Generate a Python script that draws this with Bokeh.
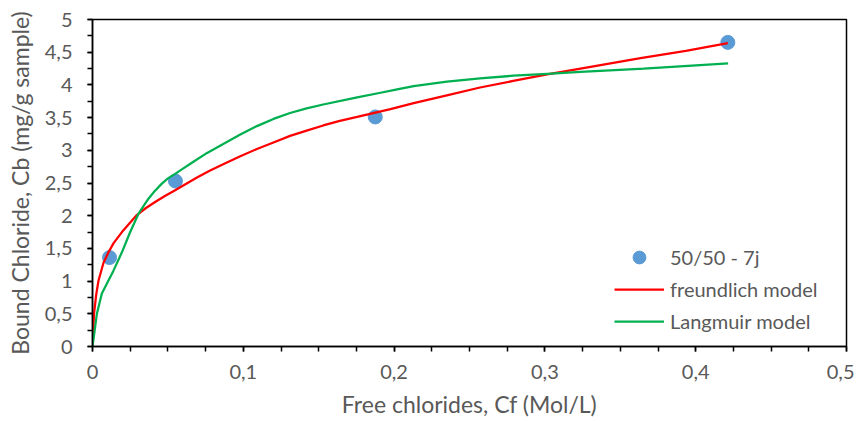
from bokeh.plotting import figure
from bokeh.models import Range1d, SingleIntervalTicker, CustomJSTickFormatter, Legend, LegendItem
from bokeh.embed import file_html
from bokeh.resources import INLINE

# Measured points (50/50 - 7j)
cf_points = [0.0113, 0.055, 0.1875, 0.4213]
cb_points = [1.36, 2.53, 3.51, 4.65]

# Freundlich model curve
freundlich_cf = [0, 0.001, 0.0025, 0.004, 0.0073, 0.0106, 0.014, 0.0195, 0.024, 0.0294,
                 0.035, 0.0415, 0.048, 0.0548, 0.069, 0.078, 0.087, 0.098, 0.109, 0.12,
                 0.131, 0.142, 0.153, 0.164, 0.1755, 0.1976, 0.213, 0.235, 0.257,
                 0.279, 0.3015, 0.3236, 0.3634, 0.3935, 0.4213]
freundlich_cb = [0, 0.5, 0.8, 1.01, 1.28, 1.44, 1.58, 1.75, 1.87, 2.01,
                 2.11, 2.21, 2.30, 2.39, 2.58, 2.69, 2.79, 2.91, 3.02, 3.12,
                 3.22, 3.30, 3.38, 3.45, 3.51, 3.63, 3.72, 3.84, 3.96,
                 4.06, 4.16, 4.25, 4.41, 4.52, 4.64]

# Langmuir model curve
langmuir_cf = [0, 0.0029, 0.0062, 0.0095, 0.0139, 0.0195, 0.025, 0.0305, 0.0371, 0.041,
               0.046, 0.05, 0.0548, 0.06, 0.0659, 0.076, 0.087, 0.098, 0.109, 0.12,
               0.131, 0.142, 0.153, 0.1755, 0.191, 0.202, 0.213, 0.235,
               0.257, 0.279, 0.3015, 0.3236, 0.3656, 0.4215]
langmuir_cb = [0, 0.50, 0.81, 0.96, 1.16, 1.44, 1.75, 2.03, 2.26, 2.37,
               2.49, 2.57, 2.64, 2.72, 2.81, 2.96, 3.10, 3.24, 3.37, 3.48,
               3.57, 3.64, 3.70, 3.81, 3.88, 3.93, 3.98, 4.05,
               4.10, 4.14, 4.17, 4.20, 4.25, 4.33]

x_title = "Free chlorides, Cf (Mol/L)"
y_title = "Bound Chloride, Cb (mg/g sample)"
labels = ["50/50 - 7j", "freundlich model", "Langmuir model"]

FONT = "Lato"
GREY = "#595959"

p = figure(width=854, height=421, output_backend="svg", toolbar_location=None,
           x_range=Range1d(0, 0.5), y_range=Range1d(0, 5),
           min_border_left=92, min_border_top=19, min_border_right=8, min_border_bottom=75)
p.grid.visible = False
p.outline_line_color = "black"
p.outline_line_width = 1.5
p.background_fill_color = "white"
p.border_fill_color = "white"

fmt = CustomJSTickFormatter(code="return (Math.round(tick*100)/100).toString().replace('.', ',');")

p.xaxis.ticker = SingleIntervalTicker(interval=0.1, num_minor_ticks=4)
p.yaxis.ticker = SingleIntervalTicker(interval=0.5, num_minor_ticks=2)
for ax in (p.xaxis, p.yaxis):
    ax.formatter = fmt
    ax.axis_line_color = "black"
    ax.axis_line_width = 1.5
    ax.major_tick_line_color = "black"
    ax.minor_tick_line_color = "black"
    ax.major_tick_line_width = 1.5
    ax.minor_tick_line_width = 1.5
    ax.major_tick_in = 0
    ax.major_tick_out = 5
    ax.minor_tick_in = 0
    ax.minor_tick_out = 5
    ax.major_label_text_font = FONT
    ax.major_label_text_font_size = "20px"
    ax.major_label_text_color = GREY
    ax.axis_label_text_font = FONT
    ax.axis_label_text_font_size = "23px"
    ax.axis_label_text_color = GREY
    ax.axis_label_text_font_style = "normal"

p.xaxis.axis_label = x_title
p.yaxis.axis_label = y_title
p.xaxis.major_label_standoff = 13
p.yaxis.major_label_standoff = 15
p.xaxis.axis_label_standoff = 8
p.yaxis.axis_label_standoff = 8

r_pts = p.scatter(cf_points, cb_points, size=14, color="#5B9BD5", line_color="#5B9BD5")
r_fr = p.line(freundlich_cf, freundlich_cb, line_color="#FF0000", line_width=2.25)
r_la = p.line(langmuir_cf, langmuir_cb, line_color="#00B050", line_width=2.25)

legend = Legend(items=[LegendItem(label=labels[0], renderers=[r_pts]),
                       LegendItem(label=labels[1], renderers=[r_fr]),
                       LegendItem(label=labels[2], renderers=[r_la])],
                location=(522, 9), border_line_color=None, background_fill_alpha=0,
                glyph_width=50, glyph_height=32, label_height=32, spacing=0,
                label_standoff=6, padding=5,
                label_text_font=FONT, label_text_font_size="20px", label_text_color=GREY)
p.add_layout(legend, "center")

open("out.html", "w").write(file_html(p, INLINE))
